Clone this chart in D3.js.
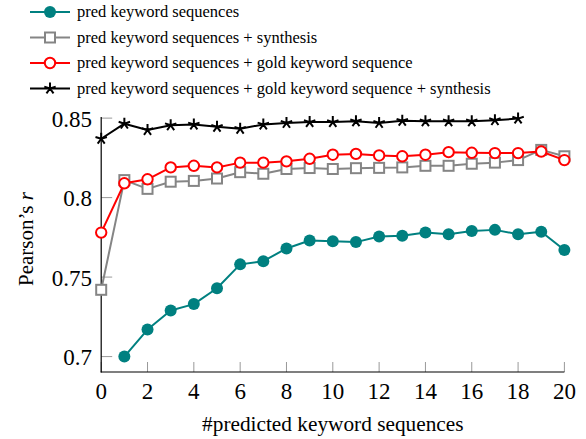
<!DOCTYPE html>
<html>
<head>
<meta charset="utf-8">
<script src="https://cdn.jsdelivr.net/npm/d3@7"></script>
<style>
  html, body { margin: 0; padding: 0; background: #fff; }
  svg { display: block; }
</style>
</head>
<body>
<svg id="chart" width="586" height="439"></svg>
<script>
// ---- data ----
const xTicks = [0, 2, 4, 6, 8, 10, 12, 14, 16, 18, 20];
const yTicks = [0.7, 0.75, 0.8, 0.85];
const yTickLabels = ["0.7", "0.75", "0.8", "0.85"];

const seriesNames = [
  "pred keyword sequences",
  "pred keyword sequences + synthesis",
  "pred keyword sequences + gold keyword sequence",
  "pred keyword sequences + gold keyword sequence + synthesis"
];

const predX = [1, 2, 3, 4, 5, 6, 7, 8, 9, 10, 11, 12, 13, 14, 15, 16, 17, 18, 19, 20];
const predY = [0.700, 0.717, 0.729, 0.733, 0.743, 0.758, 0.760, 0.768, 0.773, 0.7725, 0.772, 0.7755, 0.776, 0.778, 0.777, 0.779, 0.7797, 0.777, 0.7785, 0.767];

const synthX = [0, 1, 2, 3, 4, 5, 6, 7, 8, 9, 10, 11, 12, 13, 14, 15, 16, 17, 18, 19, 20];
const synthY = [0.742, 0.811, 0.8055, 0.810, 0.8105, 0.812, 0.816, 0.815, 0.818, 0.8186, 0.818, 0.8185, 0.8187, 0.819, 0.820, 0.820, 0.8213, 0.822, 0.8236, 0.830, 0.826];

const goldX = [0, 1, 2, 3, 4, 5, 6, 7, 8, 9, 10, 11, 12, 13, 14, 15, 16, 17, 18, 19, 20];
const goldY = [0.778, 0.809, 0.8115, 0.819, 0.820, 0.819, 0.822, 0.822, 0.8228, 0.8244, 0.827, 0.8275, 0.8265, 0.826, 0.827, 0.8286, 0.8282, 0.828, 0.828, 0.829, 0.8236];

const goldSynthX = [0, 1, 2, 3, 4, 5, 6, 7, 8, 9, 10, 11, 12, 13, 14, 15, 16, 17, 18];
const goldSynthY = [0.837, 0.8465, 0.8425, 0.8455, 0.846, 0.8445, 0.8433, 0.846, 0.847, 0.8475, 0.8475, 0.848, 0.847, 0.8483, 0.848, 0.848, 0.848, 0.8487, 0.8497];

// ---- layout ----
const FONT = "'Liberation Serif'";
const svg = d3.select("#chart");
const x = d3.scaleLinear().domain([0, 20]).range([101.2, 564.4]);
const y = d3.scaleLinear().domain([0.6903, 0.8507]).range([372, 117]);

const teal = "#008080", gray = "#858585", red = "#ff0000", black = "#000000";

function txt(g) { return g.append("text").style("font-family", FONT).attr("fill", "#000"); }

// ticks (inward, gray)
const gx = svg.append("g");
xTicks.forEach(t => {
  gx.append("line").attr("x1", x(t)).attr("x2", x(t)).attr("y1", y.range()[0]).attr("y2", y.range()[0] - 10)
    .attr("stroke", "#999").attr("stroke-width", 1);
  txt(gx).attr("x", x(t)).attr("y", 398.5).attr("text-anchor", "middle")
    .attr("font-size", 23).text(t);
});
const gy = svg.append("g");
yTicks.forEach((t, i) => {
  gy.append("line").attr("x1", x(0)).attr("x2", x(0) + 11).attr("y1", y(t)).attr("y2", y(t))
    .attr("stroke", "#999").attr("stroke-width", 1);
  txt(gy).attr("x", 92).attr("y", y(t) + 8.5).attr("text-anchor", "end")
    .attr("font-size", 23).text(yTickLabels[i]);
});

// axis lines
svg.append("line").attr("x1", x(0)).attr("x2", x(0)).attr("y1", y.range()[0] + 0.5).attr("y2", y.range()[1])
  .attr("stroke", "#000").attr("stroke-width", 1.2);
svg.append("line").attr("x1", x(0) - 0.5).attr("x2", x(20)).attr("y1", y.range()[0]).attr("y2", y.range()[0])
  .attr("stroke", "#000").attr("stroke-width", 1.2);

// axis titles
txt(svg).attr("x", (x(0) + x(20)) / 2).attr("y", 431).attr("text-anchor", "middle")
  .attr("font-size", 21.3).text("#predicted keyword sequences");
const yl = txt(svg).attr("transform", "translate(33,239) rotate(-90)")
  .attr("text-anchor", "middle").attr("font-size", 21);
yl.append("tspan").text("Pearson’s ");
yl.append("tspan").attr("font-style", "italic").text("r");

// markers
function drawMarker(g, type, cx, cy) {
  if (type === "circleFilled") {
    g.append("circle").attr("cx", cx).attr("cy", cy).attr("r", 6).attr("fill", teal);
  } else if (type === "square") {
    g.append("rect").attr("x", cx - 5).attr("y", cy - 5).attr("width", 10).attr("height", 10)
      .attr("fill", "#fff").attr("stroke", gray).attr("stroke-width", 2);
  } else if (type === "circleOpen") {
    g.append("circle").attr("cx", cx).attr("cy", cy).attr("r", 5.2)
      .attr("fill", "#fff").attr("stroke", red).attr("stroke-width", 2);
  } else if (type === "star") {
    const r = 6;
    let d = "";
    for (let k = 0; k < 5; k++) {
      const a = -Math.PI / 2 + k * 2 * Math.PI / 5;
      d += `M${cx},${cy}L${cx + r * Math.cos(a)},${cy + r * Math.sin(a)}`;
    }
    g.append("path").attr("d", d).attr("stroke", black).attr("stroke-width", 2).attr("fill", "none");
  }
}

const series = [
  { xs: predX, ys: predY, color: teal, marker: "circleFilled" },
  { xs: synthX, ys: synthY, color: gray, marker: "square" },
  { xs: goldX, ys: goldY, color: red, marker: "circleOpen" },
  { xs: goldSynthX, ys: goldSynthY, color: black, marker: "star" }
];

const line = d3.line().x(d => x(d[0])).y(d => y(d[1]));
series.forEach(s => {
  const pts = s.xs.map((v, i) => [v, s.ys[i]]);
  const g = svg.append("g");
  g.append("path").attr("d", line(pts)).attr("fill", "none").attr("stroke", s.color)
    .attr("stroke-width", 2).attr("stroke-linejoin", "round");
  pts.forEach(p => drawMarker(g, s.marker, x(p[0]), y(p[1])));
});

// legend
const legendRowY = [12, 37.5, 63, 88.5];
series.forEach((s, i) => {
  const g = svg.append("g");
  const ly = legendRowY[i];
  g.append("line").attr("x1", 30).attr("x2", 70).attr("y1", ly).attr("y2", ly)
    .attr("stroke", s.color).attr("stroke-width", 2);
  drawMarker(g, s.marker, 50, ly);
  txt(g).attr("x", 77).attr("y", ly + 5).attr("font-size", 16.5).text(seriesNames[i]);
});
</script>
</body>
</html>
